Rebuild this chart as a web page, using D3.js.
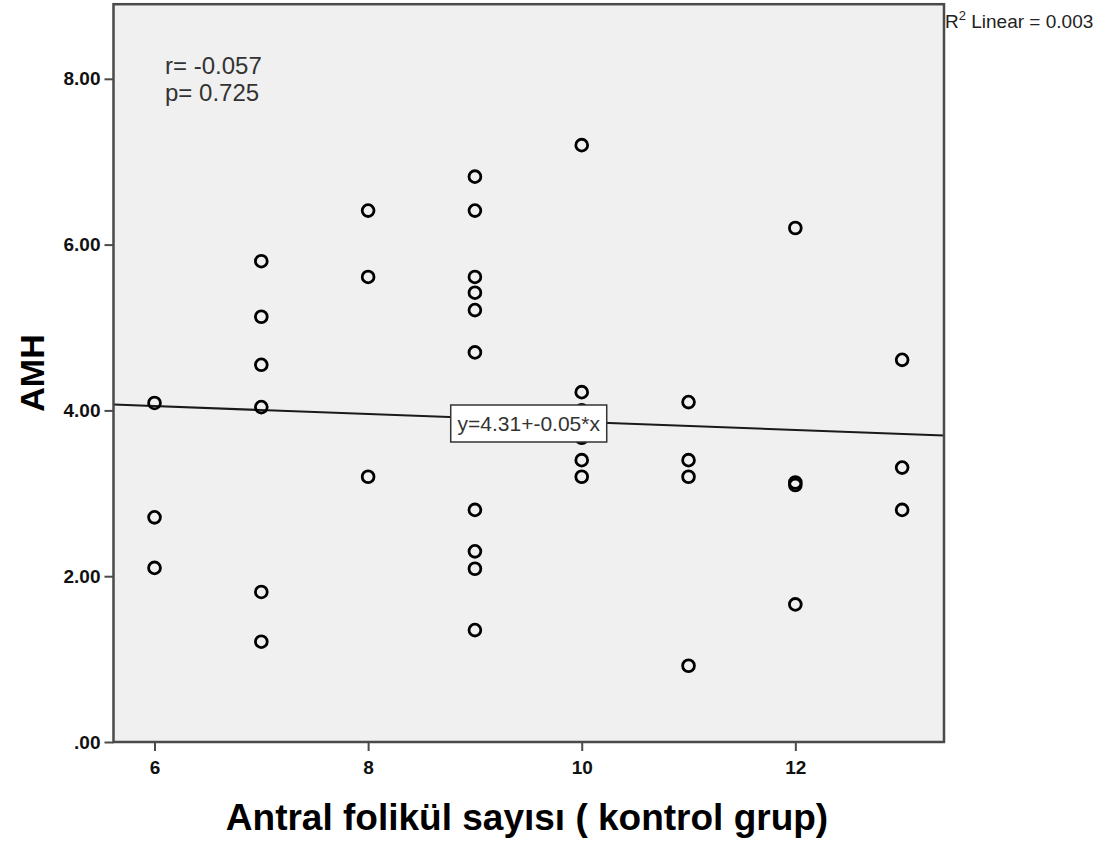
<!DOCTYPE html>
<html>
<head>
<meta charset="utf-8">
<script src="https://cdn.jsdelivr.net/npm/d3@7"></script>
<style>
  html, body { margin: 0; padding: 0; background: #ffffff; }
  svg { display: block; }
</style>
</head>
<body>
<script>
// ---- data ----
const follicleCount = [6, 6, 6,
  7, 7, 7, 7, 7, 7,
  8, 8, 8,
  9, 9, 9, 9, 9, 9, 9, 9, 9, 9,
  10, 10, 10, 10, 10, 10,
  11, 11, 11, 11,
  12, 12, 12, 12,
  13, 13, 13];
const amhValues = [4.09, 2.71, 2.10,
  5.80, 5.13, 4.55, 4.04, 1.81, 1.21,
  6.41, 5.61, 3.20,
  6.82, 6.41, 5.61, 5.42, 5.21, 4.70, 2.80, 2.30, 2.09, 1.35,
  7.20, 4.22, 4.00, 3.67, 3.40, 3.20,
  4.10, 3.40, 3.20, 0.92,
  6.20, 3.13, 3.10, 1.66,
  4.61, 3.31, 2.80];
const xTickValues = [6, 8, 10, 12];
const yTickValues = [0, 2, 4, 6, 8];
const xDomain = [5.616, 13.392];
const yDomain = [0, 8.9];
const fitIntercept = 4.34;
const fitSlope = -0.048;
const fitLabel = "y=4.31+-0.05*x";
const statLines = ["r= -0.057", "p= 0.725"];
const r2Label = { pre: "R", sup: "2", post: " Linear = 0.003" };
const xTitle = "Antral folikül sayısı ( kontrol grup)";
const yTitle = "AMH";

// ---- layout ----
const W = 1107, H = 841;
const plot = { left: 113.5, right: 944, top: 4.2, bottom: 742 };
const FONT = "'Liberation Sans', Arial, sans-serif";

const svg = d3.select("body").append("svg").attr("width", W).attr("height", H);

const x = d3.scaleLinear().domain(xDomain).range([plot.left, plot.right]);
const y = d3.scaleLinear().domain(yDomain).range([plot.bottom, plot.top]);

// plot background
svg.append("rect")
  .attr("x", plot.left).attr("y", plot.top)
  .attr("width", plot.right - plot.left).attr("height", plot.bottom - plot.top)
  .attr("fill", "#f0f0f0");

svg.append("clipPath").attr("id", "clip")
  .append("rect")
  .attr("x", plot.left).attr("y", plot.top)
  .attr("width", plot.right - plot.left).attr("height", plot.bottom - plot.top);

// regression line
const line = d3.line().x(d => x(d)).y(d => y(fitIntercept + fitSlope * d));
svg.append("path")
  .datum(xDomain)
  .attr("d", line)
  .attr("clip-path", "url(#clip)")
  .attr("fill", "none")
  .attr("stroke", "#1a1a1a")
  .attr("stroke-width", 2);

// points
svg.append("g").selectAll("circle")
  .data(follicleCount.map((v, i) => [v, amhValues[i]]))
  .join("circle")
  .attr("cx", d => x(d[0]))
  .attr("cy", d => y(d[1]))
  .attr("r", 5.9)
  .attr("fill", "none")
  .attr("stroke", "#000")
  .attr("stroke-width", 2.8);

// fit label box
const lx = x(10) - 53, ly = 423.5;
const lbl = svg.append("g");
lbl.append("rect")
  .attr("x", lx - 78).attr("y", 405)
  .attr("width", 156).attr("height", 37)
  .attr("fill", "#ffffff")
  .attr("stroke", "#333")
  .attr("stroke-width", 1.5);
lbl.append("text")
  .attr("x", lx).attr("y", ly)
  .attr("text-anchor", "middle")
  .attr("dominant-baseline", "central")
  .attr("font-family", FONT)
  .attr("font-size", 21)
  .attr("fill", "#333")
  .text(fitLabel);

// frame
svg.append("rect")
  .attr("x", plot.left).attr("y", plot.top)
  .attr("width", plot.right - plot.left).attr("height", plot.bottom - plot.top)
  .attr("fill", "none")
  .attr("stroke", "#4a4a4a")
  .attr("stroke-width", 2.5);

// axes
const fmtY = d => d === 0 ? ".00" : d3.format(".2f")(d);
const yAxis = svg.append("g")
  .attr("transform", `translate(${plot.left},0)`)
  .call(d3.axisLeft(y).tickValues(yTickValues).tickFormat(fmtY).tickSize(9).tickPadding(4));
const xAxis = svg.append("g")
  .attr("transform", `translate(0,${plot.bottom})`)
  .call(d3.axisBottom(x).tickValues(xTickValues).tickFormat(d3.format("d")).tickSize(9).tickPadding(10));
[yAxis, xAxis].forEach(g => {
  g.select(".domain").remove();
  g.selectAll(".tick line").attr("stroke", "#4a4a4a").attr("stroke-width", 2);
  g.selectAll(".tick text")
    .attr("font-family", FONT)
    .attr("font-weight", "bold")
    .attr("font-size", 19)
    .attr("fill", "#111");
});

// axis titles
svg.append("text")
  .attr("x", 527).attr("y", 830)
  .attr("text-anchor", "middle")
  .attr("font-family", FONT)
  .attr("font-weight", "bold")
  .attr("font-size", 37)
  .attr("fill", "#000")
  .text(xTitle);
svg.append("text")
  .attr("transform", `translate(44,373) rotate(-90)`)
  .attr("text-anchor", "middle")
  .attr("font-family", FONT)
  .attr("font-weight", "bold")
  .attr("font-size", 34)
  .attr("fill", "#000")
  .text(yTitle);

// stats annotation
svg.append("g").selectAll("text")
  .data(statLines)
  .join("text")
  .attr("x", 165)
  .attr("y", (d, i) => 74 + i * 27)
  .attr("font-family", FONT)
  .attr("font-size", 24)
  .attr("fill", "#333")
  .text(d => d);

// R^2 label
const r2 = svg.append("text")
  .attr("x", 945).attr("y", 28)
  .attr("font-family", FONT)
  .attr("font-size", 19)
  .attr("fill", "#222");
r2.append("tspan").text(r2Label.pre);
r2.append("tspan").attr("dy", -8).attr("font-size", 13).text(r2Label.sup);
r2.append("tspan").attr("dy", 8).text(r2Label.post);
</script>
</body>
</html>
